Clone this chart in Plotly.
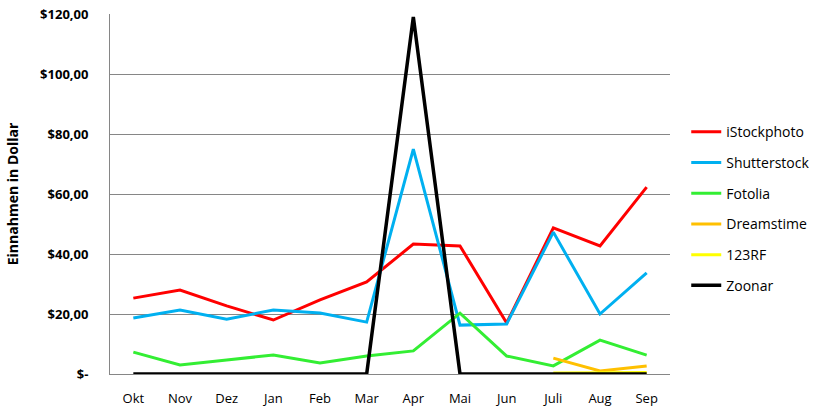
import plotly.graph_objects as go

months = ["Okt", "Nov", "Dez", "Jan", "Feb", "Mar", "Apr", "Mai", "Jun", "Juli", "Aug", "Sep"]
istock = [25.3, 28.0, 22.7, 18.0, 24.7, 30.7, 43.3, 42.7, 17.0, 48.7, 42.7, 62.3]
shutter = [18.7, 21.3, 18.3, 21.3, 20.3, 17.3, 75.0, 16.3, 16.7, 47.3, 20.0, 33.7]
fotolia = [7.3, 3.0, 4.7, 6.3, 3.7, 6.0, 7.7, 20.3, 6.0, 2.7, 11.3, 6.3]
dreams = [None, None, None, None, None, None, None, None, None, 5.3, 1.0, 2.7]
rf123 = [None, None, None, None, None, None, None, None, None, 0.3, 0.5, 0.5]
zoonar = [0, 0, 0, 0, 0, 0, 119.0, 0, 0, 0, 0, 0]

series = [
    ("iStockphoto", istock, "#ff0000", 3),
    ("Shutterstock", shutter, "#00b0f0", 3),
    ("Fotolia", fotolia, "#33ee33", 3),
    ("Dreamstime", dreams, "#ffc000", 3),
    ("123RF", rf123, "#ffff00", 3),
    ("Zoonar", zoonar, "#000000", 3.5),
]

font = "Open Sans"
fig = go.Figure()
for i, (name, vals, col, w) in enumerate(series):
    fig.add_trace(go.Scatter(x=months, y=vals, name=name, mode="lines",
                             line=dict(color=col, width=w),
                             legendgroup=str(i)))

tickvals = [0, 20, 40, 60, 80, 100, 120]
ticktext = ["$-", "$20,00", "$40,00", "$60,00", "$80,00", "$100,00", "$120,00"]

fig.update_layout(
    width=820, height=409,
    margin=dict(l=110, r=150, t=14, b=35, autoexpand=False),
    paper_bgcolor="white", plot_bgcolor="white",
    font=dict(family=font, size=13, color="black"),
    showlegend=True,
    legend=dict(x=1.029, y=0.716, xanchor="left", yanchor="top",
                traceorder="grouped", tracegroupgap=9.5,
                font=dict(family=font, size=14)),
    xaxis=dict(showgrid=False, showline=True, linecolor="#868686", linewidth=1,
               ticks="", ticklabelstandoff=12, range=[-0.5, 11.5], automargin=False,
               tickfont=dict(family=font, size=13)),
    yaxis=dict(range=[0, 120.02], tickvals=tickvals, ticktext=ticktext,
               showgrid=True, gridcolor="#868686", gridwidth=1,
               showline=True, linecolor="#868686", linewidth=1, automargin=False,
               zeroline=False, ticks="", ticklabelstandoff=18,
               tickfont=dict(family=font, size=13, weight="bold"),
               title=dict(text="Einnahmen in Dollar", standoff=18,
                          font=dict(family=font, size=14, weight="bold"))),
)

fig.write_html("out.html")
